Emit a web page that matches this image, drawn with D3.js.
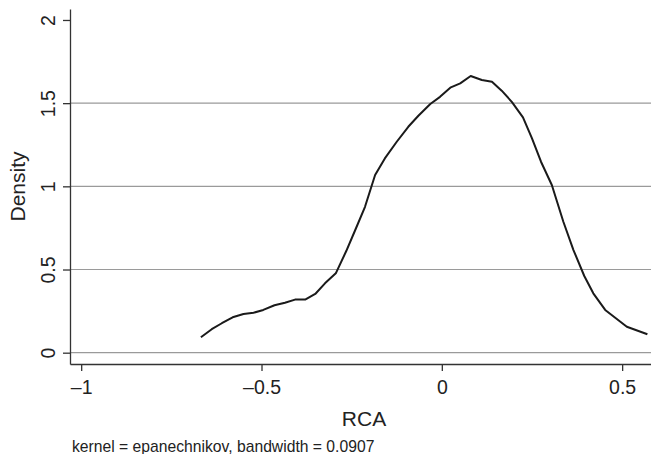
<!DOCTYPE html>
<html>
<head>
<meta charset="utf-8">
<script src="https://cdn.jsdelivr.net/npm/d3@7"></script>
<style>
  body { margin: 0; background: #fff; }
  svg { display: block; font-family: "Liberation Sans", Arial, sans-serif; }
</style>
</head>
<body>
<div id="chart"></div>
<script>
// density estimate
const rca = [-0.668, -0.638, -0.610, -0.580, -0.550, -0.522, -0.495, -0.464, -0.435, -0.407,
  -0.379, -0.351, -0.324, -0.294, -0.265, -0.238, -0.213, -0.185, -0.158, -0.125,
  -0.093, -0.065, -0.032, -0.005, 0.025, 0.051, 0.080, 0.111, 0.139, 0.166,
  0.194, 0.225, 0.250, 0.275, 0.305, 0.337, 0.365, 0.395, 0.420, 0.453, 0.513, 0.570];
const density = [0.093, 0.141, 0.177, 0.213, 0.233, 0.240, 0.257, 0.285, 0.300, 0.319,
  0.319, 0.353, 0.417, 0.477, 0.611, 0.748, 0.877, 1.068, 1.168, 1.268,
  1.358, 1.424, 1.495, 1.538, 1.595, 1.619, 1.663, 1.639, 1.629, 1.575,
  1.508, 1.415, 1.288, 1.148, 1.008, 0.787, 0.617, 0.461, 0.357, 0.257, 0.156, 0.111];
const xTicks = [-1, -0.5, 0, 0.5];
const yTicks = [0, 0.5, 1, 1.5, 2];
const gridTicks = [0, 0.5, 1, 1.5];

const width = 651;
const height = 454;

const svg = d3.select('#chart')
  .append('svg')
  .attr('width', width)
  .attr('height', height);

const x = d3.scaleLinear().domain([-1.031, 0.580]).range([70, 651]);
const y = d3.scaleLinear().domain([-0.068, 2.066]).range([364, 9]);

const fmt = d => String(d).replace('-', '\u2013');

// grid
svg.append('g')
  .selectAll('line')
  .data(gridTicks)
  .enter().append('line')
  .attr('x1', x.range()[0])
  .attr('x2', x.range()[1])
  .attr('y1', d => y(d))
  .attr('y2', d => y(d))
  .attr('stroke', '#9a9a9a')
  .attr('stroke-width', 1.2);

// curve
const line = d3.line()
  .x((d, i) => x(rca[i]))
  .y(d => y(d));

svg.append('path')
  .datum(density)
  .attr('d', line)
  .attr('fill', 'none')
  .attr('stroke', '#1a1a1a')
  .attr('stroke-width', 2)
  .attr('stroke-linejoin', 'round');

// x axis
const xAxis = svg.append('g')
  .attr('transform', `translate(0, ${y.range()[0]})`)
  .call(d3.axisBottom(x).tickValues(xTicks).tickFormat(fmt).tickSize(7).tickSizeOuter(0));

xAxis.select('.domain').attr('stroke', '#333').attr('stroke-width', 1.3);
xAxis.selectAll('.tick line').attr('stroke', '#333').attr('stroke-width', 1.3);
xAxis.selectAll('.tick text')
  .attr('y', 29.5)
  .attr('dy', 0)
  .attr('fill', '#222')
  .style('font-size', '19.5px');

// y axis
const yAxis = svg.append('g')
  .attr('transform', `translate(${x.range()[0]}, 0)`)
  .call(d3.axisLeft(y).tickValues(yTicks).tickFormat(fmt).tickSize(7).tickSizeOuter(0));

yAxis.select('.domain').attr('stroke', '#333').attr('stroke-width', 1.3);
yAxis.selectAll('.tick line').attr('stroke', '#333').attr('stroke-width', 1.3);
yAxis.selectAll('.tick text')
  .attr('transform', 'rotate(-90)')
  .attr('x', 0)
  .attr('y', -15)
  .attr('dy', 0)
  .attr('text-anchor', 'middle')
  .attr('fill', '#222')
  .style('font-size', '19.5px');

// titles
svg.append('text')
  .attr('x', 364)
  .attr('y', 426)
  .attr('text-anchor', 'middle')
  .style('font-size', '21px')
  .attr('fill', '#222')
  .text('RCA');

svg.append('text')
  .attr('transform', 'translate(25, 186.5) rotate(-90)')
  .attr('text-anchor', 'middle')
  .style('font-size', '21px')
  .attr('fill', '#222')
  .text('Density');

svg.append('text')
  .attr('x', 72)
  .attr('y', 451.5)
  .style('font-size', '15.7px')
  .attr('fill', '#222')
  .text('kernel = epanechnikov, bandwidth = 0.0907');
</script>
</body>
</html>
